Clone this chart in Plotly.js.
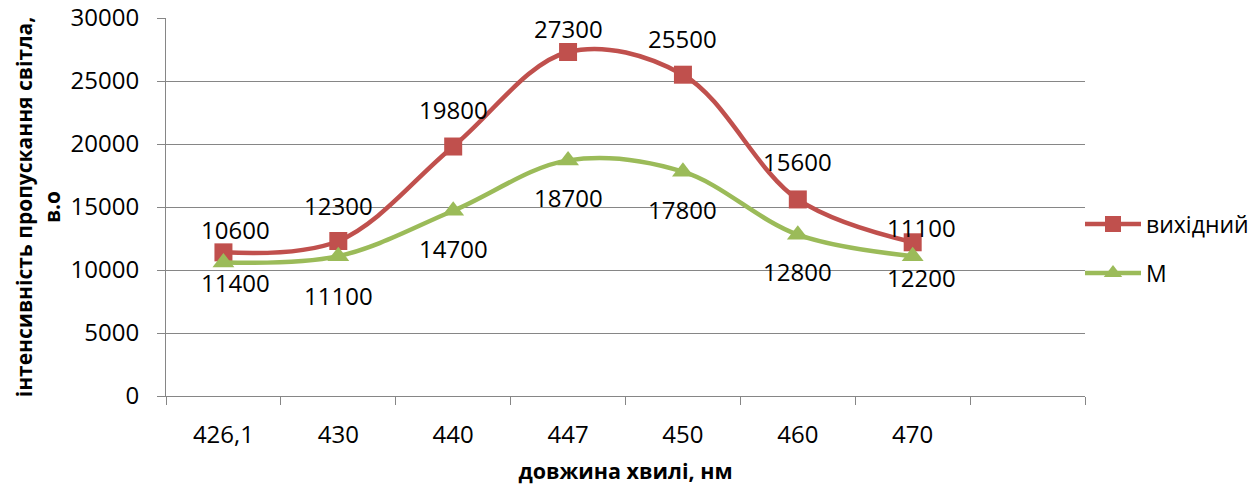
<!DOCTYPE html>
<html>
<head>
<meta charset="utf-8">
<script src="https://cdn.plot.ly/plotly-3.0.1.min.js"></script>
<style>
  html, body { margin: 0; padding: 0; background: #ffffff; }
  #chart { width: 1259px; height: 486px; }
</style>
</head>
<body>
<div id="chart"></div>
<script>
// Wavelengths (category labels) and light transmission intensity for two samples
const wavelengths = ["426,1", "430", "440", "447", "450", "460", "470"];
const initialValues = [11400, 12300, 19800, 27300, 25500, 15600, 12200]; // вихідний
const modifiedValues = [10600, 11100, 14700, 18700, 17800, 12800, 11100]; // М

// Data-label placement (pixels): distance above the upper marker / below the lower marker
const topLabelGap = [23, 36, 37, 24, 36, 38, 15];
const bottomLabelGap = [20, 39, 38, 37, 38, 37, 21];
const labelNudgeX = [12, 0, 0, 0, 0, 0, 9];
// points where the lower series' label sits above the pair and the upper one below
const crossedLabels = [0, 6];

const FONT = "'Open Sans', 'Noto Sans', sans-serif";
const RED = "#C0504D";
const GREEN = "#9BBB59";
const GRID = "#868686";
const LABEL_SIZE = 24;

const xIdx = wavelengths.map((_, i) => i);

const traces = [
  {
    x: xIdx, y: initialValues, name: "вихідний", type: "scatter", mode: "lines+markers",
    line: { color: RED, width: 4.5, shape: "spline", smoothing: 1 },
    marker: { symbol: "square", size: 18, color: RED },
    legendgroup: "a", hoverinfo: "y"
  },
  {
    x: xIdx, y: modifiedValues, name: "М", type: "scatter", mode: "lines+markers",
    line: { color: GREEN, width: 4.5, shape: "spline", smoothing: 1 },
    marker: { symbol: "triangle-up", size: 19, color: GREEN },
    legendgroup: "b", hoverinfo: "y"
  }
];

const annotations = [];
xIdx.forEach(i => {
  const crossed = crossedLabels.includes(i);
  const upperText = crossed ? modifiedValues[i] : initialValues[i];
  const lowerText = crossed ? initialValues[i] : modifiedValues[i];
  annotations.push({
    x: i, y: initialValues[i], xref: "x", yref: "y", text: String(upperText),
    showarrow: false, xanchor: "center", yanchor: "middle",
    xshift: labelNudgeX[i], yshift: topLabelGap[i],
    font: { family: FONT, size: LABEL_SIZE, color: "#000000" }
  });
  annotations.push({
    x: i, y: modifiedValues[i], xref: "x", yref: "y", text: String(lowerText),
    showarrow: false, xanchor: "center", yanchor: "middle",
    xshift: labelNudgeX[i], yshift: -bottomLabelGap[i],
    font: { family: FONT, size: LABEL_SIZE, color: "#000000" }
  });
});

// category boundaries carry the small tick marks under the axis
const boundaries = [];
for (let k = 0; k <= wavelengths.length + 1; k++) boundaries.push(k - 0.5);

const layout = {
  width: 1259, height: 486,
  paper_bgcolor: "#ffffff", plot_bgcolor: "#ffffff",
  margin: { l: 166, r: 174, t: 18, b: 90, pad: 0, autoexpand: false },
  font: { family: FONT, size: LABEL_SIZE, color: "#000000" },
  showlegend: true,
  legend: {
    xref: "container", yref: "container",
    x: 1080 / 1259, xanchor: "left", y: 1 - 248.6 / 486, yanchor: "middle",
    font: { family: FONT, size: 23, color: "#000000" },
    tracegroupgap: 16, bgcolor: "rgba(0,0,0,0)", itemwidth: 56
  },
  xaxis: {
    automargin: false,
    range: [-0.5, wavelengths.length + 0.5],
    tickmode: "array", tickvals: xIdx, ticktext: wavelengths,
    ticks: "", ticklabelstandoff: 17,
    tickfont: { family: FONT, size: LABEL_SIZE, color: "#000000" },
    showgrid: false, zeroline: false,
    showline: true, linecolor: GRID, linewidth: 1,
    minor: { tickmode: "array", tickvals: boundaries, ticks: "outside", ticklen: 8, tickcolor: GRID, tickwidth: 1, showgrid: false },
    title: { text: "довжина хвилі, нм", font: { family: FONT, size: 21.5, color: "#000000", weight: "bold" }, standoff: 15 },
    fixedrange: true
  },
  yaxis: {
    automargin: false,
    range: [0, 30000], dtick: 5000, tick0: 0, tickformat: "d",
    exponentformat: "none", separatethousands: false,
    ticks: "outside", ticklen: 8, tickcolor: GRID, tickwidth: 1,
    ticklabelstandoff: 13,
    tickfont: { family: FONT, size: LABEL_SIZE, color: "#000000" },
    showgrid: true, gridcolor: GRID, gridwidth: 1,
    zeroline: false, showline: true, linecolor: GRID, linewidth: 1,
    title: { text: "інтенсивність пропускання світла,<br>в.о", font: { family: FONT, size: 21, color: "#000000", weight: "bold" }, standoff: 4 },
    fixedrange: true
  },
  annotations: annotations
};

Plotly.newPlot("chart", traces, layout, { displayModeBar: false, staticPlot: true });
</script>
</body>
</html>
